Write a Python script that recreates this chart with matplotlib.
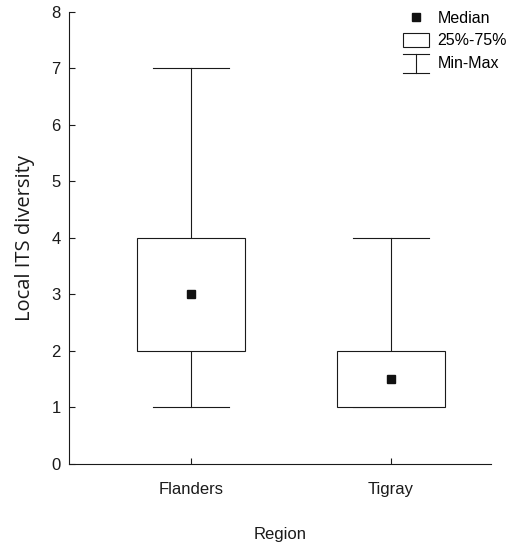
import matplotlib.pyplot as plt
from matplotlib.patches import Rectangle
from matplotlib.lines import Line2D
from matplotlib.legend_handler import HandlerBase

plt.rcParams['font.family'] = ['Liberation Sans', 'DejaVu Sans']

regions = ["Flanders", "Tigray"]
medians = [3.0, 1.5]
q25 = [2.0, 1.0]
q75 = [4.0, 2.0]
mins = [1.0, 1.0]
maxs = [7.0, 4.0]

LINE = '#1a1a1a'
BOX_W = 0.54
CAP_W = 0.38


class HandlerMinMax(HandlerBase):
    # whisker glyph: vertical stem with a cap on top and bottom
    def create_artists(self, legend, orig_handle, xdescent, ydescent,
                       width, height, fontsize, trans):
        cx = width / 2 - xdescent
        y0 = -ydescent - 0.3 * height
        y1 = -ydescent + 1.15 * height
        arts = [
            Line2D([cx, cx], [y0, y1], color=LINE, lw=0.8),
            Line2D([0, width], [y0, y0], color=LINE, lw=0.8),
            Line2D([0, width], [y1, y1], color=LINE, lw=0.8),
        ]
        for a in arts:
            a.set_transform(trans)
        return arts


fig = plt.figure(figsize=(5.11, 5.45), dpi=100)
ax = fig.add_axes([0.135, 0.149, 0.826, 0.829])

pos = list(range(1, len(regions) + 1))
for x, med, lo, hi, mn, mx in zip(pos, medians, q25, q75, mins, maxs):
    # whiskers
    ax.plot([x, x], [hi, mx], color=LINE, lw=0.8)
    ax.plot([x, x], [mn, lo], color=LINE, lw=0.8)
    ax.plot([x - CAP_W / 2, x + CAP_W / 2], [mx, mx], color=LINE, lw=0.8)
    ax.plot([x - CAP_W / 2, x + CAP_W / 2], [mn, mn], color=LINE, lw=0.8)
    # interquartile box
    ax.add_patch(Rectangle((x - BOX_W / 2, lo), BOX_W, hi - lo,
                           facecolor='white', edgecolor=LINE, lw=0.8, zorder=2))
    ax.plot(x, med, 's', color='#111111', ms=6, zorder=3)

ax.set_xlim(0.39, 2.5)
ax.set_ylim(0, 8)
ax.set_xticks(pos)
ax.set_xticklabels(regions)
ax.set_yticks(range(0, 9))
ax.tick_params(direction='in', length=4, width=0.8, labelsize=12, colors=LINE, pad=6)
ax.tick_params(axis='x', pad=13)
for s in ['top', 'right']:
    ax.spines[s].set_visible(False)
for s in ['left', 'bottom']:
    ax.spines[s].set_linewidth(0.8)
    ax.spines[s].set_color(LINE)

ax.set_ylabel("Local ITS diversity", fontsize=14.5, family='Open Sans',
              labelpad=12, color=LINE)
ax.set_xlabel("Region", fontsize=12, labelpad=22, color=LINE)

handles = [
    Line2D([], [], marker='s', ls='none', color='#111111', ms=6),
    Rectangle((0, 0), 1, 1, facecolor='white', edgecolor=LINE, lw=0.8),
    object(),
]
labels = ["Median", "25%-75%", "Min-Max"]
ax.legend(handles, labels, handler_map={object: HandlerMinMax()},
          loc='upper left', bbox_to_anchor=(403 / 511, 1 - 11 / 545),
          bbox_transform=fig.transFigure, borderpad=0, borderaxespad=0,
          frameon=False, fontsize=11.5, handlelength=1.6, handleheight=0.9,
          handletextpad=0.55, labelspacing=0.45)

fig.savefig("out.png", dpi=100)
